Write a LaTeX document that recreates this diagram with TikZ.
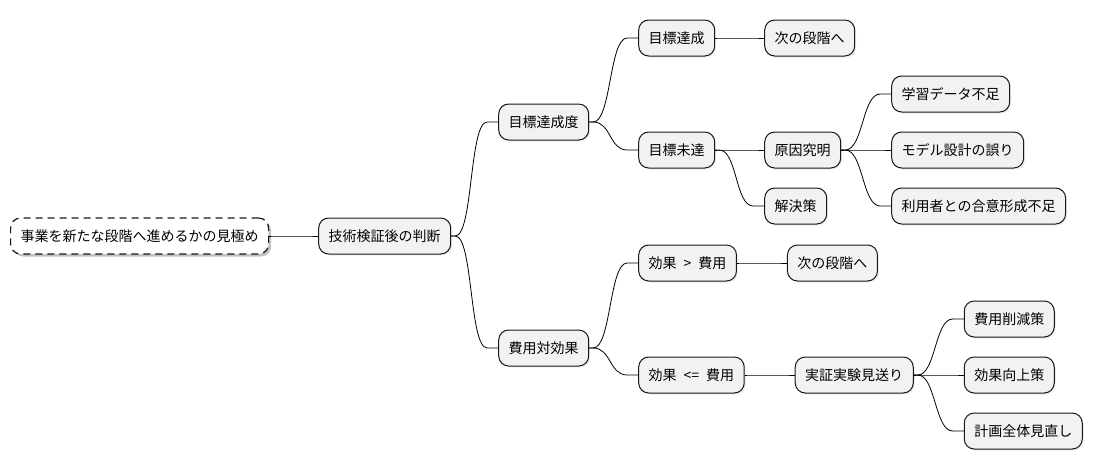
\documentclass[tikz,border=0pt]{standalone}
\usepackage{fontspec}
\setmainfont{Noto Sans CJK JP}
\usetikzlibrary{positioning,calc,shadows}

\begin{document}
\begin{tikzpicture}[x=1pt,y=-1pt,
   font=\fontsize{14}{16}\selectfont,
   every node/.style={draw=black!90,line width=1pt,rounded corners=10pt,
     fill=gray!10,minimum height=36pt,inner xsep=10pt,inner ysep=2pt,
     drop shadow={opacity=0.15,shadow xshift=1.5pt,shadow yshift=-1.5pt}},
   topic/.style={fill=white,line width=1.2pt,dash pattern=on 7pt off 5pt,
     drop shadow={opacity=0.45,shadow xshift=2.5pt,shadow yshift=-2.5pt}},
   branch/.style={to path={-- ++(4,0) .. controls +(18,0) and +(-18,0)
     .. ($(\tikztotarget)+(-11,0)$) -- (\tikztotarget)}}]
\useasboundingbox (0,0) rectangle (1095,471);
\node[topic,anchor=west] (root) at (10,236) {事業を新たな段階へ進めるかの見極め};
\node[right=49pt of root] (judge) {技術検証後の判断};
\node[right=47pt of judge,yshift=114pt] (goal) {目標達成度};
\node[right=47pt of judge,yshift=-112pt] (cost) {費用対効果};
\node[right=49pt of goal,yshift=84pt] (reach) {目標達成};
\node[right=49pt of reach] (next1) {次の段階へ};
\node[right=49pt of goal,yshift=-28pt] (miss) {目標未達};
\node[right=49pt of miss] (cause) {原因究明};
\node[right=49pt of miss,yshift=-56pt] (fix) {解決策};
\node[right=50pt of cause,yshift=56pt] (data) {学習データ不足};
\node[right=50pt of cause] (model) {モデル設計の誤り};
\node[right=50pt of cause,yshift=-56pt] (user) {利用者との合意形成不足};
\node[right=49pt of cost,yshift=85pt] (gain) {効果\enspace>\enspace 費用};
\node[right=50pt of gain] (next2) {次の段階へ};
\node[right=49pt of cost,yshift=-27pt] (loss) {効果\enspace<=\enspace 費用};
\node[right=50pt of loss] (skip) {実証実験見送り};
\node[right=50pt of skip,yshift=56pt] (cut) {費用削減策};
\node[right=50pt of skip] (boost) {効果向上策};
\node[right=50pt of skip,yshift=-56pt] (redo) {計画全体見直し};
\foreach \a/\b in {root/judge,judge/goal,judge/cost,goal/reach,goal/miss,
    reach/next1,miss/cause,miss/fix,cause/data,cause/model,cause/user,
    cost/gain,cost/loss,gain/next2,loss/skip,skip/cut,skip/boost,skip/redo}
  \draw[line width=0.8pt] (\a.east) to[branch] (\b.west);
\end{tikzpicture}
\end{document}
